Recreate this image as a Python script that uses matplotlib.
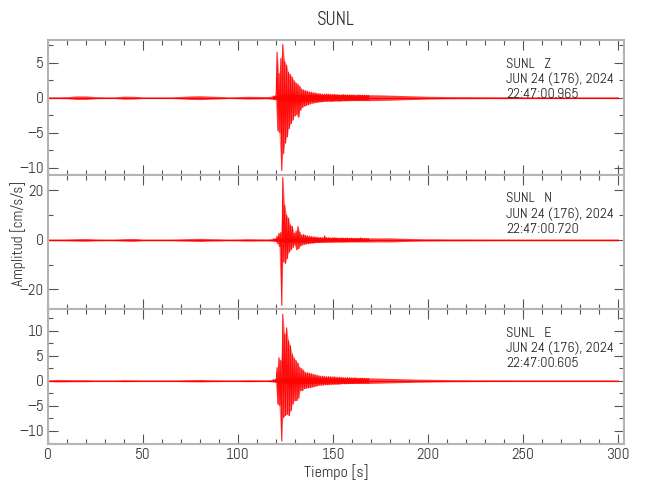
import numpy as np
import matplotlib.pyplot as plt
from matplotlib.ticker import MultipleLocator

plt.rcParams['font.family'] = ['Abel', 'DejaVu Sans']

# envolvente del ruido de fondo (cada 5 s, 0..300 s)
t_ruido = np.arange(0, 301, 5)
ruido_z = [0.12, 0.12, 0.15, 0.25, 0.25, 0.15, 0.12, 0.12, 0.22, 0.2,
           0.12, 0.12, 0.12, 0.12, 0.18, 0.25, 0.28, 0.22, 0.18, 0.12,
           0.15, 0.2, 0.18, 0.15, 0.3, 0.5, 0.5, 0.5, 0.5, 0.45,
           0.45, 0.45, 0.42, 0.42, 0.42, 0.4, 0.36, 0.32, 0.28, 0.24,
           0.2, 0.18, 0.16, 0.15, 0.15, 0.14, 0.14, 0.13, 0.13, 0.12,
           0.12, 0.12, 0.12, 0.12, 0.12, 0.12, 0.12, 0.12, 0.12, 0.12, 0.12]
ruido_n = [0.35, 0.35, 0.4, 0.5, 0.55, 0.4, 0.35, 0.35, 0.5, 0.6,
           0.35, 0.35, 0.35, 0.35, 0.45, 0.55, 0.65, 0.5, 0.45, 0.35,
           0.4, 0.5, 0.45, 0.4, 0.6, 1.0, 1.0, 1.0, 1.0, 0.9,
           0.9, 0.9, 0.85, 0.85, 0.85, 0.8, 0.85, 0.7, 0.6, 0.5,
           0.45, 0.45, 0.4, 0.4, 0.4, 0.38, 0.38, 0.36, 0.36, 0.35,
           0.35, 0.35, 0.35, 0.35, 0.35, 0.35, 0.35, 0.35, 0.35, 0.35, 0.35]
ruido_e = [0.15, 0.25, 0.22, 0.2, 0.2, 0.15, 0.15, 0.15, 0.2, 0.18,
           0.15, 0.15, 0.15, 0.15, 0.18, 0.22, 0.25, 0.2, 0.18, 0.15,
           0.16, 0.2, 0.18, 0.16, 0.3, 0.6, 0.6, 0.6, 0.6, 0.55,
           0.55, 0.55, 0.55, 0.55, 0.55, 0.5, 0.45, 0.4, 0.35, 0.3,
           0.28, 0.25, 0.22, 0.2, 0.2, 0.18, 0.18, 0.17, 0.17, 0.16,
           0.16, 0.15, 0.15, 0.15, 0.15, 0.15, 0.15, 0.15, 0.15, 0.15, 0.15]

# picos del evento (cada 1 s desde 118.5 s): maximo y minimo
t_evento = np.arange(118.5, 169.0, 1.0)
z_max = [0.2, 0.25, 6.5, 3.4, 5.6, 7.6, 5.2, 4.6, 3.6, 3.3,
         2.9, 2.4, 2.1, 1.9, 1.6, 1.2, 1.1, 1.0, 0.9, 0.8,
         0.8, 0.7, 0.7, 0.6, 0.6, 0.55, 0.5, 0.5, 0.55, 0.5,
         0.5, 0.45, 0.5, 0.45, 0.45, 0.4, 0.4, 0.45, 0.4, 0.4,
         0.4, 0.38, 0.4, 0.35, 0.35, 0.4, 0.35, 0.35, 0.33, 0.35, 0.33]
z_min = [-0.2, -0.2, -4.7, -5.0, -10.4, -8.0, -6.5, -5.6, -4.4, -3.7,
         -3.2, -2.6, -2.4, -2.8, -1.8, -1.4, -1.2, -1.1, -1.0, -0.9,
         -0.8, -0.75, -0.7, -0.65, -0.6, -0.6, -0.55, -0.5, -0.5, -0.5,
         -0.5, -0.5, -0.45, -0.45, -0.45, -0.45, -0.4, -0.4, -0.4, -0.4,
         -0.4, -0.4, -0.35, -0.35, -0.35, -0.35, -0.35, -0.35, -0.35, -0.33, -0.33]
n_max = [0.4, 0.5, 1.5, 2.7, 3.0, 25.2, 14.0, 10.0, 8.8, 6.0,
         5.5, 2.7, 3.5, 5.4, 3.0, 2.0, 2.2, 1.8, 1.6, 1.5,
         1.4, 1.3, 1.2, 1.1, 1.0, 1.0, 0.9, 1.6, 0.9, 0.9,
         0.8, 0.8, 0.9, 0.8, 0.7, 0.7, 0.8, 0.7, 0.7, 0.7,
         0.6, 0.7, 0.6, 0.6, 0.6, 0.6, 0.8, 0.6, 0.55, 0.55, 0.5]
n_min = [-0.4, -0.5, -1.5, -2.7, -26.5, -8.8, -9.5, -7.5, -5.0, -4.0,
         -3.0, -2.0, -4.0, -3.5, -2.5, -2.0, -1.8, -1.6, -1.5, -1.4,
         -1.3, -1.2, -1.1, -1.0, -1.0, -0.9, -0.9, -0.9, -0.8, -0.8,
         -0.8, -0.8, -0.7, -0.7, -0.7, -0.7, -0.7, -0.65, -0.65, -0.6,
         -0.6, -0.6, -0.6, -0.6, -0.55, -0.55, -0.55, -0.55, -0.5, -0.5, -0.5]
e_max = [0.2, 0.25, 2.6, 4.6, 4.0, 13.3, 9.3, 10.6, 8.0, 7.0,
         5.3, 4.5, 4.0, 3.5, 2.6, 2.4, 2.0, 1.6, 1.6, 1.5,
         1.4, 1.3, 1.2, 1.1, 1.0, 0.9, 0.9, 0.85, 0.8, 0.8,
         0.8, 0.75, 0.8, 0.7, 0.7, 0.7, 0.65, 0.6, 0.6, 0.6,
         0.6, 0.55, 0.55, 0.6, 0.5, 0.5, 0.5, 0.5, 0.45, 0.45, 0.45]
e_min = [-0.2, -0.25, -4.7, -5.0, -12.1, -7.4, -7.0, -6.7, -7.0, -6.0,
         -4.7, -4.0, -4.0, -3.5, -2.0, -2.0, -1.6, -1.5, -1.4, -1.4,
         -1.3, -1.2, -1.1, -1.0, -0.9, -0.9, -0.85, -0.8, -0.8, -0.8,
         -0.75, -0.75, -0.7, -0.7, -0.7, -0.65, -0.6, -0.6, -0.6, -0.6,
         -0.55, -0.55, -0.55, -0.5, -0.5, -0.5, -0.5, -0.45, -0.45, -0.45, -0.45]

componentes = ['Z', 'N', 'E']
horas = ['22:47:00.965', '22:47:00.720', '22:47:00.605']
limites = [(-11.0, 8.24), (-28.1, 26.4), (-12.7, 14.3)]
mayores = [5, 20, 5]
menores = [2.5, 10, 2.5]

gris = '#b4b4b4'
fig = plt.figure(figsize=(6.5, 5), dpi=100)
x0, x1 = 48 / 650, 624 / 650
y_top, y_bot = 1 - 40 / 500, 1 - 444 / 500
h = (y_top - y_bot) / 3

datos = [(ruido_z, z_max, z_min), (ruido_n, n_max, n_min), (ruido_e, e_max, e_min)]
axes = []
for i, (ruido, vmax, vmin) in enumerate(datos):
    ax = fig.add_axes([x0, y_top - (i + 1) * h, x1 - x0, h])
    axes.append(ax)
    r = np.array(ruido)
    ax.fill_between(t_ruido, -r, r, color='red', lw=0, alpha=0.75)
    ax.plot(t_ruido, np.zeros_like(r), color='red', lw=0.8)
    ax.fill_between(t_evento, vmin, vmax, color='red', lw=0, alpha=0.5)
    tt = np.column_stack([t_evento, t_evento + 0.5]).ravel()
    vv = np.column_stack([vmax, vmin]).ravel()
    ax.plot(tt, vv, color='red', lw=0.8, alpha=0.9)

    ax.set_xlim(0, 303)
    ax.set_ylim(*limites[i])
    ax.xaxis.set_major_locator(MultipleLocator(50))
    ax.xaxis.set_minor_locator(MultipleLocator(10))
    ax.yaxis.set_major_locator(MultipleLocator(mayores[i]))
    ax.yaxis.set_minor_locator(MultipleLocator(menores[i]))
    ax.tick_params(which='both', direction='in', top=True, right=True,
                   color='#555555', labelcolor='#333333', labelsize=11, pad=3)
    ax.tick_params(which='major', length=7, width=0.8)
    ax.tick_params(which='minor', length=3.5, width=0.8)
    for s in ax.spines.values():
        s.set_color(gris)
        s.set_linewidth(1.5)
    if i < 2:
        ax.tick_params(labelbottom=False)
    ax.text(0.795, 0.87, 'SUNL   %s\nJUN 24 (176), 2024\n%s' % (componentes[i], horas[i]),
            transform=ax.transAxes, ha='left', va='top', fontsize=10.2,
            color='#222222', linespacing=1.2)

fig.text((x0 + x1) / 2, 1 - 20 / 500, 'SUNL', ha='center', va='center',
         fontsize=13.5, color='#333333')
fig.text((x0 + x1) / 2, 1 - 472 / 500, 'Tiempo [s]', ha='center', va='center',
         fontsize=11.5, color='#333333')
fig.text(18 / 650, 1 - 233 / 500, 'Amplitud [cm/s/s]', ha='center', va='center',
         rotation=90, fontsize=11, color='#333333')

fig.savefig('out.png', dpi=100)
